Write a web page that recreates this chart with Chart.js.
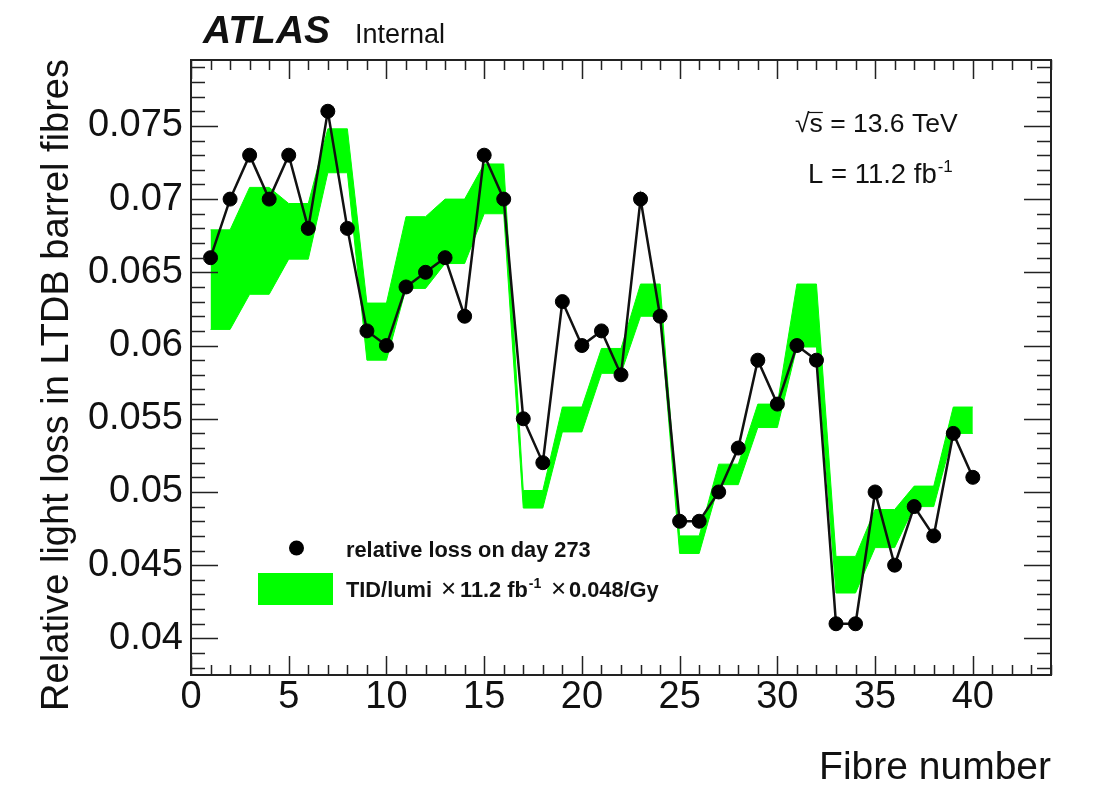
<!DOCTYPE html>
<html>
<head>
<meta charset="utf-8">
<script src="https://cdn.jsdelivr.net/npm/chart.js@4/dist/chart.umd.min.js"></script>
<style>
  html, body { margin: 0; padding: 0; background: #fff; }
  canvas { display: block; }
</style>
</head>
<body>
<canvas id="fibre-canvas" width="1113" height="800"></canvas>
<script>
const fibres = [1, 2, 3, 4, 5, 6, 7, 8, 9, 10, 11, 12, 13, 14, 15, 16, 17, 18, 19, 20,
  21, 22, 23, 24, 25, 26, 27, 28, 29, 30, 31, 32, 33, 34, 35, 36, 37, 38, 39, 40]

// relative loss on day 273
const relativeLoss = [0.066, 0.070, 0.073, 0.070, 0.073, 0.068, 0.076, 0.068, 0.061, 0.060,
  0.064, 0.065, 0.066, 0.062, 0.073, 0.070, 0.055, 0.052, 0.063, 0.060,
  0.061, 0.058, 0.070, 0.062, 0.048, 0.048, 0.050, 0.053, 0.059, 0.056,
  0.060, 0.059, 0.041, 0.041, 0.050, 0.045, 0.049, 0.047, 0.054, 0.051]

// TID/lumi x 11.2 fb-1 x 0.048/Gy band (fibres come in pairs)
const tidUpper = [0.0679, 0.0679, 0.0708, 0.0708, 0.0697, 0.0697, 0.0748, 0.0748, 0.0629, 0.0629,
  0.0688, 0.0688, 0.0700, 0.0700, 0.0724, 0.0724, 0.0501, 0.0501, 0.0558, 0.0558,
  0.0598, 0.0598, 0.0642, 0.0642, 0.0470, 0.0470, 0.0519, 0.0519, 0.0560, 0.0560,
  0.0642, 0.0642, 0.0456, 0.0456, 0.0488, 0.0488, 0.0504, 0.0504, 0.0558, 0.0558]
const tidLower = [0.0611, 0.0611, 0.0635, 0.0635, 0.0659, 0.0659, 0.0718, 0.0718, 0.0590, 0.0590,
  0.0639, 0.0639, 0.0656, 0.0656, 0.0690, 0.0690, 0.0489, 0.0489, 0.0541, 0.0541,
  0.0581, 0.0581, 0.0620, 0.0620, 0.0458, 0.0458, 0.0505, 0.0505, 0.0544, 0.0544,
  0.0599, 0.0599, 0.0431, 0.0431, 0.0462, 0.0462, 0.0490, 0.0490, 0.0540, 0.0540]

const xTicks = [0, 5, 10, 15, 20, 25, 30, 35, 40]
const yTicks = [0.04, 0.045, 0.05, 0.055, 0.06, 0.065, 0.07, 0.075]

const FONT = 'Liberation Sans'
const GREEN = '#00ff00'
const INK = '#111'

const toPoints = values => fibres.map((f, i) => ({ x: f, y: values[i] }))

// draws [text, font, x, y] pieces
function drawPieces(ctx, pieces) {
  pieces.forEach(([text, font, x, y]) => {
    ctx.font = font
    ctx.fillText(text, x, y)
  })
}

// text followed by a raised exponent, returns end x
function drawWithExponent(ctx, text, font, exp, expFont, x, y, raise) {
  ctx.font = font
  ctx.fillText(text, x, y)
  const ex = x + ctx.measureText(text).width + 1
  ctx.font = expFont
  ctx.fillText(exp, ex, y - raise)
  return ex + ctx.measureText(exp).width
}

const rootFrame = {
  id: 'rootFrame',
  afterDatasetsDraw(chart) {
    const { ctx, chartArea: a, scales: { x, y } } = chart
    ctx.save()
    ctx.strokeStyle = '#222'
    ctx.lineWidth = 1.5
    ctx.beginPath()
    for (let v = 0; v <= 44; v++) {
      const px = Math.round(x.getPixelForValue(v)) + 0.5
      const len = v % 5 === 0 ? 19 : 10
      ctx.moveTo(px, a.bottom); ctx.lineTo(px, a.bottom - len)
      ctx.moveTo(px, a.top); ctx.lineTo(px, a.top + len)
    }
    for (let i = 38; i <= 79; i++) {
      const py = Math.round(y.getPixelForValue(i / 1000)) + 0.5
      const len = i % 5 === 0 ? 27 : 14
      ctx.moveTo(a.left, py); ctx.lineTo(a.left + len, py)
      ctx.moveTo(a.right, py); ctx.lineTo(a.right - len, py)
    }
    ctx.stroke()
    ctx.lineWidth = 2
    ctx.strokeRect(a.left, a.top, a.right - a.left, a.bottom - a.top)
    ctx.restore()
  },
  afterDraw(chart) {
    const { ctx } = chart
    ctx.save()
    ctx.fillStyle = INK
    ctx.textBaseline = 'alphabetic'
    ctx.textAlign = 'left'

    // ATLAS Internal
    drawPieces(ctx, [
      ['ATLAS', `italic bold 39px "${FONT}"`, 203, 43],
      ['Internal', `27px "${FONT}"`, 355, 43]
    ])

    // y axis title
    ctx.save()
    ctx.translate(58, 59)
    ctx.rotate(-Math.PI / 2)
    ctx.textAlign = 'right'
    ctx.textBaseline = 'middle'
    ctx.font = `38px "${FONT}"`
    ctx.fillText('Relative light loss in LTDB barrel fibres', 0, 0)
    ctx.restore()

    // energy and luminosity
    ctx.font = `26.5px "${FONT}"`
    ctx.fillText('\u221As = 13.6 TeV', 795, 132)
    const rootW = ctx.measureText('\u221A').width
    const sW = ctx.measureText('s').width
    ctx.strokeStyle = INK
    ctx.lineWidth = 1.2
    ctx.beginPath()
    ctx.moveTo(795 + rootW - 1, 112.5); ctx.lineTo(795 + rootW + sW, 112.5)
    ctx.stroke()
    drawWithExponent(ctx, 'L = 11.2 fb', `27.5px "${FONT}"`, '-1', `17px "${FONT}"`, 808, 183, 11)

    // legend
    ctx.fillStyle = '#000'
    ctx.beginPath()
    ctx.arc(296.5, 548, 7.5, 0, Math.PI * 2)
    ctx.fill()
    ctx.fillStyle = GREEN
    ctx.fillRect(258, 573, 75, 32)
    ctx.fillStyle = INK
    drawPieces(ctx, [
      ['relative loss on day 273', `bold 21.8px "${FONT}"`, 346, 557],
      ['TID/lumi', `bold 21.8px "${FONT}"`, 346, 597],
      ['\u00D7', `26px "${FONT}"`, 441, 597],
      ['\u00D7', `26px "${FONT}"`, 551, 597],
      ['0.048/Gy', `bold 21.8px "${FONT}"`, 569, 597]
    ])
    drawWithExponent(ctx, '11.2 fb', `bold 21.8px "${FONT}"`, '-1', `bold 14px "${FONT}"`, 460, 597, 9)
    ctx.restore()
  }
}

new Chart(document.querySelector('#fibre-canvas'), {
  type: 'scatter',
  data: {
    datasets: [
      {
        label: 'relative loss on day 273',
        data: toPoints(relativeLoss),
        showLine: true,
        order: 0,
        borderColor: '#111',
        borderWidth: 2.5,
        pointRadius: 7,
        pointBackgroundColor: '#000',
        pointBorderColor: '#000',
        pointBorderWidth: 1,
        tension: 0
      },
      {
        label: 'TID upper',
        data: toPoints(tidUpper),
        showLine: true,
        order: 1,
        fill: '+1',
        backgroundColor: GREEN,
        borderColor: GREEN,
        borderWidth: 1,
        pointRadius: 0,
        tension: 0
      },
      {
        label: 'TID lower',
        data: toPoints(tidLower),
        showLine: true,
        order: 2,
        fill: false,
        borderColor: GREEN,
        borderWidth: 1,
        pointRadius: 0,
        tension: 0
      }
    ]
  },
  options: {
    responsive: false,
    animation: false,
    devicePixelRatio: 1,
    layout: { padding: { top: 60, right: 62, bottom: 0, left: 0 } },
    plugins: { legend: { display: false }, tooltip: { enabled: false } },
    scales: {
      x: {
        type: 'linear',
        min: 0,
        max: 44,
        afterBuildTicks: scale => { scale.ticks = xTicks.map(value => ({ value })) },
        afterFit: scale => { scale.height = 125 },
        grid: { display: false },
        border: { display: false },
        ticks: { color: INK, font: { family: FONT, size: 38 }, padding: -8, maxRotation: 0, autoSkip: false },
        title: {
          display: true,
          text: 'Fibre number',
          align: 'end',
          color: INK,
          font: { family: FONT, size: 39 },
          padding: { top: 0, bottom: 8 }
        }
      },
      y: {
        type: 'linear',
        min: 0.0375,
        max: 0.0795,
        afterBuildTicks: scale => { scale.ticks = yTicks.map(value => ({ value })) },
        afterFit: scale => { scale.width = 191 },
        grid: { display: false },
        border: { display: false },
        ticks: {
          color: INK,
          font: { family: FONT, size: 38 },
          padding: 0,
          autoSkip: false,
          callback: value => String(+value.toFixed(3))
        }
      }
    }
  },
  plugins: [rootFrame]
})
</script>
</body>
</html>
